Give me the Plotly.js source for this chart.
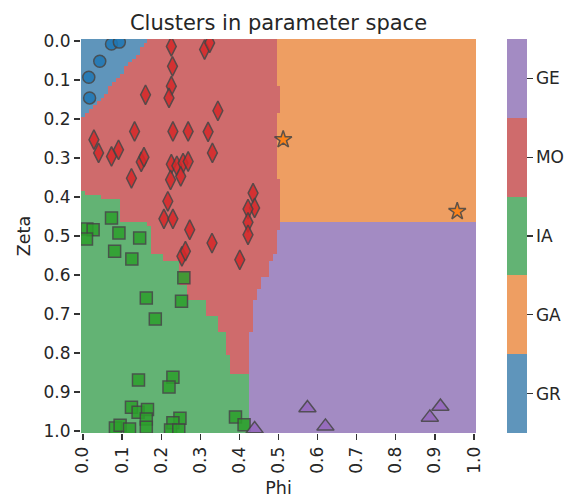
<!DOCTYPE html>
<html><head><meta charset="utf-8">
<script src="https://cdn.plot.ly/plotly-3.0.1.min.js"></script>
<style>body{margin:0;background:#fff}</style>
</head><body><div id="chart" style="width:572px;height:500px"></div>
<script>
// ---- categories ----
const classNames = ['GR', 'GA', 'IA', 'MO', 'GE'];
const classIndex = [0, 1, 2, 3, 4];
const regionColors = ['#5F95BB', '#EE9E62', '#63B374', '#CF6B6C', '#A38BC3'];
const markerColors = ['#1f77b4', '#ff7f0e', '#2ca02c', '#d62728', '#9467bd'];
const markerSymbols = ['circle', 'star', 'square', 'diamond-tall', 'triangle-up'];
const markerSizes = [12, 13, 12, 14, 15];

// ---- tick labels ----
const tickValues = [0, 0.1, 0.2, 0.3, 0.4, 0.5, 0.6, 0.7, 0.8, 0.9, 1.0];
const tickLabels = ['0.0', '0.1', '0.2', '0.3', '0.4', '0.5', '0.6', '0.7', '0.8', '0.9', '1.0'];

// ---- points (Phi, Zeta) per cluster ----
const grPhi  = [0.073, 0.093, 0.043, 0.015, 0.017];
const grZeta = [0.008, 0.003, 0.052, 0.093, 0.146];

const gaPhi  = [0.512, 0.957];
const gaZeta = [0.253, 0.437];

const iaPhi  = [0.073, 0.010, 0.026, 0.009, 0.092, 0.145, 0.081, 0.125, 0.258, 0.162,
                0.252, 0.185, 0.142, 0.230, 0.220, 0.124, 0.141, 0.165, 0.162, 0.162,
                0.083, 0.095, 0.119, 0.248, 0.230, 0.224, 0.245, 0.390, 0.412];
const iaZeta = [0.454, 0.482, 0.484, 0.508, 0.492, 0.505, 0.539, 0.559, 0.607, 0.659,
                0.667, 0.713, 0.869, 0.862, 0.887, 0.939, 0.952, 0.945, 0.969, 0.990,
                0.992, 0.985, 0.995, 0.967, 0.979, 0.997, 0.997, 0.964, 0.984];

const moPhi  = [0.226, 0.229, 0.226, 0.220, 0.311, 0.324, 0.160, 0.345, 0.132, 0.230,
                0.269, 0.320, 0.028, 0.040, 0.073, 0.091, 0.149, 0.156, 0.331, 0.226,
                0.240, 0.256, 0.269, 0.124, 0.224, 0.250, 0.217, 0.207, 0.230, 0.273,
                0.330, 0.253, 0.262, 0.435, 0.439, 0.422, 0.422, 0.422, 0.401];
const moZeta = [0.014, 0.065, 0.116, 0.146, 0.022, 0.005, 0.138, 0.179, 0.232, 0.232,
                0.232, 0.233, 0.253, 0.287, 0.296, 0.279, 0.310, 0.298, 0.287, 0.316,
                0.320, 0.313, 0.309, 0.352, 0.356, 0.347, 0.411, 0.456, 0.456, 0.484,
                0.518, 0.552, 0.539, 0.390, 0.428, 0.431, 0.465, 0.497, 0.561];

const gePhi  = [0.439, 0.574, 0.620, 0.887, 0.914];
const geZeta = [0.995, 0.941, 0.988, 0.965, 0.937];

// ---- decision regions, read row by row (Zeta rows of 0.01) ----
// GR: last Phi cell that is GR, for Zeta rows 0.00 .. 0.19
const grLastPhi = [0.16, 0.15, 0.14, 0.14, 0.13, 0.12, 0.11, 0.10, 0.10, 0.09,
                   0.08, 0.07, 0.06, 0.06, 0.05, 0.04, 0.03, 0.02, 0.01, 0.00];
// GA: [zeta from, zeta to, first Phi cell]
const gaBands = [[0.00, 0.11, 0.50], [0.12, 0.18, 0.51], [0.19, 0.35, 0.50], [0.36, 0.46, 0.51]];
// GE: [zeta from, zeta to, first Phi cell]
const geBands = [[0.47, 0.48, 0.51], [0.49, 0.54, 0.50], [0.55, 0.56, 0.49], [0.57, 0.60, 0.48],
                 [0.61, 0.63, 0.46], [0.64, 0.66, 0.45], [0.67, 0.74, 0.44], [0.75, 1.00, 0.43]];
// IA: [zeta from, zeta to, last Phi cell]
const iaBands = [[0.39, 0.39, 0.00], [0.40, 0.40, 0.04], [0.41, 0.46, 0.09], [0.47, 0.47, 0.16],
                 [0.48, 0.54, 0.17], [0.55, 0.56, 0.20], [0.57, 0.62, 0.24], [0.63, 0.66, 0.26],
                 [0.67, 0.70, 0.31], [0.71, 0.74, 0.34], [0.75, 0.80, 0.36], [0.81, 0.85, 0.37],
                 [0.86, 1.00, 0.42]];

// ---- build grid ----
const N = 101;
const gridPhi = [], gridZeta = [];
for (let i = 0; i < N; i++) { gridPhi.push(i / 100); gridZeta.push(i / 100); }
const idx = v => Math.round(v * 100);
const z = [];
for (let r = 0; r < N; r++) {
  const row = new Array(N).fill(3); // MO default
  if (r < grLastPhi.length) for (let c = 0; c <= idx(grLastPhi[r]); c++) row[c] = 0;
  gaBands.forEach(b => { if (r >= idx(b[0]) && r <= idx(b[1])) for (let c = idx(b[2]); c < N; c++) row[c] = 1; });
  geBands.forEach(b => { if (r >= idx(b[0]) && r <= idx(b[1])) for (let c = idx(b[2]); c < N; c++) row[c] = 4; });
  iaBands.forEach(b => { if (r >= idx(b[0]) && r <= idx(b[1])) for (let c = 0; c <= idx(b[2]); c++) row[c] = 2; });
  z.push(row);
}

const colorscale = [];
regionColors.forEach((col, i) => { colorscale.push([i / 5, col]); colorscale.push([(i + 1) / 5, col]); });

const FONT = 'DejaVu Sans, sans-serif';
const TXT = '#262626';

const heat = {
  type: 'heatmap', x: gridPhi, y: gridZeta, z: z,
  zmin: -0.5, zmax: 4.5, colorscale: colorscale, zsmooth: false,
  hoverinfo: 'skip',
  colorbar: {
    x: 1.0777, xanchor: 'left', y: 0.5, yanchor: 'middle',
    len: 1, lenmode: 'fraction', thickness: 20, thicknessmode: 'pixels',
    outlinewidth: 0, xpad: 0, ypad: 0,
    tickvals: classIndex, ticktext: classNames,
    ticks: 'outside', ticklen: 6, tickwidth: 1.25, tickcolor: '#333',
    tickfont: {family: FONT, size: 17, color: TXT}
  }
};

const pts = [[grPhi, grZeta], [gaPhi, gaZeta], [iaPhi, iaZeta], [moPhi, moZeta], [gePhi, geZeta]];
const scatters = pts.map((p, i) => ({
  type: 'scatter', mode: 'markers', x: p[0], y: p[1], name: classNames[i],
  showlegend: false, cliponaxis: true,
  marker: {symbol: markerSymbols[i], size: markerSizes[i], color: markerColors[i], opacity: 0.85,
           line: {color: '#444', width: 1.5}}
}));

const axisCommon = {
  showgrid: false, zeroline: false, showline: false, automargin: false,
  ticks: 'outside', ticklen: 6, tickwidth: 1.25, tickcolor: '#333',
  tickvals: tickValues, ticktext: tickLabels,
  tickfont: {family: FONT, size: 17, color: TXT}
};

const layout = {
  width: 572, height: 500,
  margin: {l: 81, r: 96, t: 39, b: 67, pad: 0, autoexpand: false},
  paper_bgcolor: '#fff', plot_bgcolor: '#fff',
  showlegend: false,
  title: {text: 'Clusters in parameter space', font: {family: FONT, size: 21, color: TXT},
          x: 0.5, xref: 'paper', xanchor: 'center', y: 0.955, yref: 'container', yanchor: 'middle'},
  xaxis: Object.assign({}, axisCommon, {range: [-0.005, 1.005], tickangle: -90,
          title: {text: 'Phi', font: {family: FONT, size: 17.5, color: TXT}, standoff: 8}}),
  yaxis: Object.assign({}, axisCommon, {range: [1.005, -0.005],
          title: {text: 'Zeta', font: {family: FONT, size: 17.5, color: TXT}, standoff: 8}})
};

Plotly.newPlot('chart', [heat].concat(scatters), layout, {displayModeBar: false, staticPlot: true});
</script>
</body></html>
